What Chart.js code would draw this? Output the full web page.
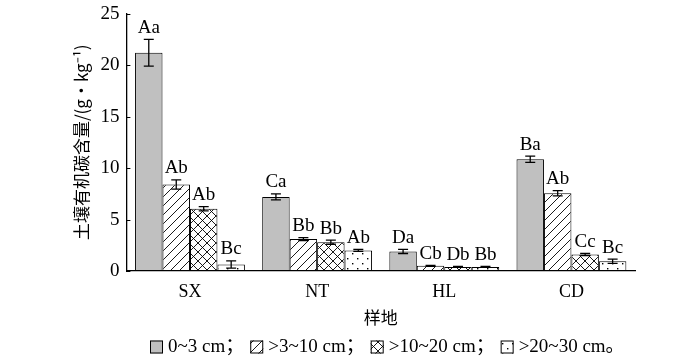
<!DOCTYPE html>
<html><head><meta charset="utf-8">
<script src="https://cdn.jsdelivr.net/npm/chart.js@4"></script>
<style>html,body{margin:0;padding:0;background:#fff}#wrap{width:700px;height:362px}</style>
</head><body><div id="wrap"><canvas id="c" width="700" height="362"></canvas></div>
<script>
const categories = ['SX', 'NT', 'HL', 'CD'];
const seriesNames = ['0~3 cm；', '>3~10 cm；', '>10~20 cm；', '>20~30 cm。'];
const depth0_3 = [21.2, 7.2, 1.9, 10.85];
const depth3_10 = [8.4, 3.1, 0.5, 7.55];
const depth10_20 = [6.05, 2.8, 0.4, 1.6];
const depth20_30 = [0.63, 2.0, 0.4, 0.95];
const err0_3 = [1.3, 0.3, 0.2, 0.3];
const err3_10 = [0.45, 0.15, 0.05, 0.25];
const err10_20 = [0.2, 0.2, 0.05, 0.1];
const err20_30 = [0.35, 0.1, 0.05, 0.2];
const sig0_3 = ['Aa', 'Ca', 'Da', 'Ba'];
const sig3_10 = ['Ab', 'Bb', 'Cb', 'Ab'];
const sig10_20 = ['Ab', 'Bb', 'Db', 'Cc'];
const sig20_30 = ['Bc', 'Ab', 'Bb', 'Bc'];
const yTicks = [0, 5, 10, 15, 20, 25];

const SERIF = '"Liberation Serif", "DejaVu Serif", "Noto Sans CJK SC", serif';
const CJK = '"Noto Sans CJK SC", sans-serif';

function makePattern(type) {
  const s = type === 'dot' ? 10 : 9;
  const c = document.createElement('canvas');
  c.width = s; c.height = s;
  const g = c.getContext('2d');
  g.fillStyle = '#fff'; g.fillRect(0, 0, s, s);
  g.strokeStyle = '#000'; g.lineWidth = 0.9;
  if (type === 'diag' || type === 'cross') {
    g.beginPath();
    g.moveTo(0, s); g.lineTo(s, 0);
    g.moveTo(-2, 2); g.lineTo(2, -2);
    g.moveTo(s - 2, s + 2); g.lineTo(s + 2, s - 2);
    if (type === 'cross') {
      g.moveTo(0, 0); g.lineTo(s, s);
      g.moveTo(-2, s - 2); g.lineTo(2, s + 2);
      g.moveTo(s - 2, -2); g.lineTo(s + 2, 2);
    }
    g.stroke();
  } else if (type === 'dot') {
    g.fillStyle = '#000';
    g.fillRect(2, 3, 1.4, 1.4);
    g.fillRect(7, 8, 1.4, 1.4);
  }
  return g.createPattern(c, 'repeat');
}

const fills = ['#c0c0c0', makePattern('diag'), makePattern('cross'), makePattern('dot')];
const values = [depth0_3, depth3_10, depth10_20, depth20_30];
const errs = [err0_3, err3_10, err10_20, err20_30];
const sigs = [sig0_3, sig3_10, sig10_20, sig20_30];

const datasets = values.map((v, i) => ({
  label: seriesNames[i],
  data: v,
  backgroundColor: fills[i],
  borderColor: '#000',
  borderWidth: 1,
  borderSkipped: false,
  categoryPercentage: 0.864,
  barPercentage: 1.0
}));

const overlay = {
  id: 'overlay',
  afterDatasetsDraw(chart) {
    const ctx = chart.ctx;
    const y = chart.scales.y;
    ctx.save();
    ctx.strokeStyle = '#000';
    ctx.lineWidth = 1.3;
    chart.data.datasets.forEach((ds, di) => {
      const meta = chart.getDatasetMeta(di);
      meta.data.forEach((bar, j) => {
        const v = ds.data[j], e = errs[di][j];
        const x = bar.x;
        const yt = y.getPixelForValue(v + e), yb = y.getPixelForValue(Math.max(0, v - e));
        ctx.beginPath();
        ctx.moveTo(x, yt); ctx.lineTo(x, yb);
        ctx.moveTo(x - 5, yt); ctx.lineTo(x + 5, yt);
        ctx.moveTo(x - 5, yb); ctx.lineTo(x + 5, yb);
        ctx.stroke();
        ctx.fillStyle = '#000';
        ctx.font = '19px ' + SERIF;
        ctx.textAlign = 'center';
        ctx.textBaseline = 'bottom';
        ctx.fillText(sigs[di][j], x, Math.min(yt, bar.y) - 2);
      });
    });
    // inward y ticks
    ctx.lineWidth = 1;
    const left = chart.chartArea.left;
    yTicks.forEach(t => {
      const py = Math.round(y.getPixelForValue(t)) + 0.5;
      ctx.beginPath(); ctx.moveTo(left, py); ctx.lineTo(left + 4, py); ctx.stroke();
    });
    ctx.restore();
  },
  afterDraw(chart) {
    // legend row
    const ctx = chart.ctx;
    ctx.save();
    ctx.font = '19px ' + SERIF;
    ctx.textBaseline = 'middle';
    ctx.textAlign = 'left';
    const cy = 347;
    let x = 150;
    chart.data.datasets.forEach((ds) => {
      ctx.fillStyle = ds.backgroundColor;
      ctx.fillRect(x, cy - 6.5, 13, 13);
      ctx.strokeStyle = '#000'; ctx.lineWidth = 1;
      ctx.strokeRect(x + 0.5, cy - 6, 12, 12);
      ctx.fillStyle = '#000';
      ctx.fillText(ds.label, x + 18, cy);
      x += 18 + ctx.measureText(ds.label).width + 6;
    });
    ctx.restore();
  }
};

new Chart(document.getElementById('c'), {
  type: 'bar',
  data: { labels: categories, datasets },
  options: {
    responsive: false,
    animation: false,
    layout: { padding: { top: 0, right: 65, left: 67, bottom: 24 } },
    plugins: {
      tooltip: { enabled: false },
      legend: { display: false }
    },
    scales: {
      x: {
        grid: { display: false, drawTicks: false },
        border: { color: '#000', width: 1.3 },
        ticks: { color: '#000', font: { size: 18, family: SERIF }, padding: 10 },
        title: { display: true, text: '样地', color: '#000', font: { size: 17, family: CJK }, padding: { top: -5, bottom: 10 } }
      },
      y: {
        min: 0, max: 25,
        grid: { display: false, drawTicks: false },
        border: { color: '#000', width: 1.3 },
        afterBuildTicks(scale) { scale.ticks = yTicks.map(v => ({ value: v })); },
        ticks: { color: '#000', font: { size: 19, family: SERIF, lineHeight: 0.7 }, padding: 7 },
        title: { display: true, text: '土壤有机碳含量/(g·kg⁻¹)', color: '#000', font: { size: 17, family: CJK }, padding: { bottom: 2 } }
      }
    }
  },
  plugins: [overlay]
});
</script>
</body></html>
